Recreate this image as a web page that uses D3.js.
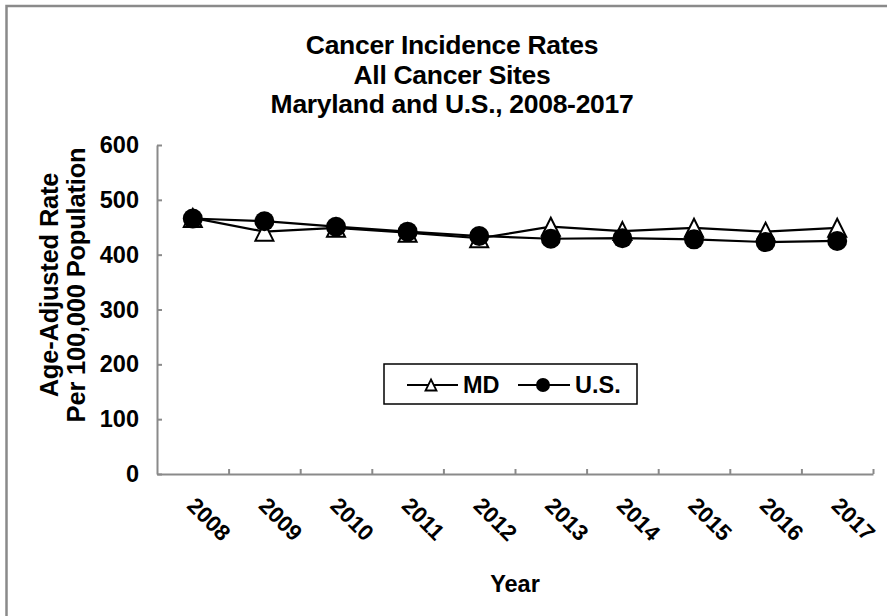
<!DOCTYPE html>
<html>
<head>
<meta charset="utf-8">
<script src="https://cdn.jsdelivr.net/npm/d3@7/dist/d3.min.js"></script>
<style>
  html, body { margin: 0; padding: 0; background: #fff; }
  svg { display: block; }
  text { font-family: "Liberation Sans", Arial, sans-serif; font-weight: bold; fill: #000; }
</style>
</head>
<body>
<svg id="chart" width="887" height="616"></svg>
<script>
// Age-adjusted cancer incidence per 100,000, all sites
const years = ["2008", "2009", "2010", "2011", "2012", "2013", "2014", "2015", "2016", "2017"];
const mdRates = [467, 442, 449, 440, 430, 451, 443, 449, 442, 449];
const usRates = [466, 461, 451, 442, 434, 429, 430, 428, 423, 425];
const yTicks = [0, 100, 200, 300, 400, 500, 600];
const titleLines = ["Cancer Incidence Rates", "All Cancer Sites", "Maryland and U.S., 2008-2017"];
const yTitleLines = ["Age-Adjusted Rate", "Per 100,000 Population"];

const svg = d3.select("#chart");
const axisGray = "#8a8a8a";

// outer frame
svg.append("rect")
  .attr("x", 6.5).attr("y", 6).attr("width", 960).attr("height", 700)
  .attr("fill", "#fff").attr("stroke", axisGray).attr("stroke-width", 2.5);

const plotLeft = 157, plotRight = 873, plotTop = 145, plotBottom = 474;

const x = d3.scaleBand().domain(years).range([plotLeft, plotRight]);
const cx = d => x(d) + x.bandwidth() / 2;
const y = d3.scaleLinear().domain([0, 600]).range([plotBottom, plotTop]);
const xEdge = d3.scaleLinear().domain([0, years.length]).range([plotLeft, plotRight]);

// title
svg.append("g").selectAll("text").data(titleLines).join("text")
  .attr("x", 452).attr("y", (d, i) => 54 + i * 29.5)
  .attr("text-anchor", "middle")
  .style("font-size", "26.5px")
  .style("letter-spacing", "-0.3px")
  .text(d => d);

// y axis
const yAxis = svg.append("g")
  .attr("transform", `translate(${plotLeft},0)`)
  .call(d3.axisLeft(y).tickValues(yTicks).tickSize(-5).tickSizeOuter(0).tickPadding(18));
yAxis.select(".domain").attr("stroke", axisGray).attr("stroke-width", 2);
yAxis.selectAll(".tick line").attr("stroke", axisGray).attr("stroke-width", 2);
yAxis.selectAll(".tick text")
  .style("font-family", "Liberation Sans, Arial, sans-serif")
  .style("font-weight", "bold").style("font-size", "23.5px").attr("fill", "#000");

// x axis: ticks between categories
const xAxis = svg.append("g")
  .attr("transform", `translate(0,${plotBottom})`)
  .call(d3.axisBottom(xEdge).tickValues(d3.range(1, years.length + 1)).tickSize(-5).tickSizeOuter(0).tickFormat(""));
xAxis.select(".domain").attr("stroke", axisGray).attr("stroke-width", 2);
xAxis.selectAll(".tick line").attr("stroke", axisGray).attr("stroke-width", 2);

// rotated year labels
svg.append("g").selectAll("text").data(years).join("text")
  .attr("transform", d => `translate(${cx(d) - 7},507) rotate(45)`)
  .attr("text-anchor", "start")
  .style("font-size", "22.5px")
  .text(d => d);

// axis titles
svg.append("text")
  .attr("x", (plotLeft + plotRight) / 2).attr("y", 592)
  .attr("text-anchor", "middle")
  .style("font-size", "23.5px")
  .text("Year");

svg.append("g")
  .attr("transform", `translate(0,285) rotate(-90)`)
  .selectAll("text").data(yTitleLines).join("text")
  .attr("x", 0).attr("y", (d, i) => 58 + i * 27)
  .attr("text-anchor", "middle")
  .style("font-size", "25.5px")
  .style("letter-spacing", "-0.2px")
  .text(d => d);

// series
const line = d3.line().x(d => cx(d.year)).y(d => y(d.value));
const mdData = years.map((yr, i) => ({ year: yr, value: mdRates[i] }));
const usData = years.map((yr, i) => ({ year: yr, value: usRates[i] }));

const triPath = (s) => `M0,${-s}L${s},${s}L${-s},${s}Z`;

svg.append("path").datum(mdData).attr("d", line)
  .attr("fill", "none").attr("stroke", "#000").attr("stroke-width", 2.2);
svg.append("path").datum(usData).attr("d", line)
  .attr("fill", "none").attr("stroke", "#000").attr("stroke-width", 2.2);

svg.append("g").selectAll("path").data(mdData).join("path")
  .attr("transform", d => `translate(${cx(d.year)},${y(d.value)})`)
  .attr("d", triPath(9))
  .attr("fill", "#fff").attr("stroke", "#000").attr("stroke-width", 2);

svg.append("g").selectAll("circle").data(usData).join("circle")
  .attr("cx", d => cx(d.year)).attr("cy", d => y(d.value))
  .attr("r", 10).attr("fill", "#000");

// legend
const lg = svg.append("g");
lg.append("rect").attr("x", 384).attr("y", 364).attr("width", 253).attr("height", 40)
  .attr("fill", "#fff").attr("stroke", "#000").attr("stroke-width", 1.5);
const ly = 385;
lg.append("line").attr("x1", 407).attr("x2", 458).attr("y1", ly).attr("y2", ly)
  .attr("stroke", "#000").attr("stroke-width", 2);
lg.append("path").attr("transform", `translate(431,${ly})`).attr("d", triPath(5.5))
  .attr("fill", "#fff").attr("stroke", "#000").attr("stroke-width", 1.8);
lg.append("text").attr("x", 463).attr("y", ly + 8).style("font-size", "23.5px").text("MD");
lg.append("line").attr("x1", 518).attr("x2", 570).attr("y1", ly).attr("y2", ly)
  .attr("stroke", "#000").attr("stroke-width", 2);
lg.append("circle").attr("cx", 543).attr("cy", ly).attr("r", 7).attr("fill", "#000");
lg.append("text").attr("x", 575).attr("y", ly + 8).style("font-size", "23.5px").text("U.S.");
</script>
</body>
</html>
